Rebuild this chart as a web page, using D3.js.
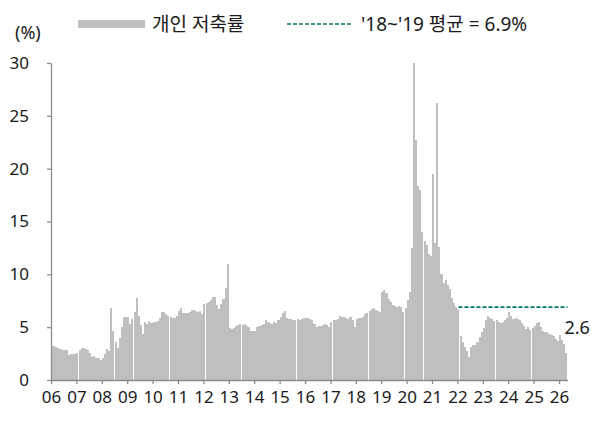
<!DOCTYPE html>
<html>
<head>
<meta charset="utf-8">
<script src="https://cdn.jsdelivr.net/npm/d3@7"></script>
<style>
  body { margin: 0; background: #fff; }
  text { font-family: "Noto Sans", "Noto Sans CJK KR", sans-serif; fill: #1a1a1a; }
</style>
</head>
<body>
<svg id="chart"></svg>
<script>
const width = 595, height = 421

// monthly personal saving rate (%), Jan 2006 ~ Apr 2026
const rate06 = [3.2,3.2,3.1,3.0,2.9,2.8,2.8,2.8,2.4,2.5,2.5,2.5]
const rate07 = [2.6,2.8,3.0,3.0,2.9,2.8,2.6,2.2,2.3,2.1,2.1,1.9]
const rate08 = [2.1,2.5,2.9,2.7,6.8,4.6,3.6,3.0,4.0,5.0,6.0,6.0]
const rate09 = [6.0,5.3,5.8,6.4,7.8,6.1,5.2,4.4,5.5,5.3,5.6,5.4]
const rate10 = [5.5,5.5,5.6,5.9,6.4,6.4,6.2,6.1,6.0,5.9,5.9,6.1]
const rate11 = [6.5,6.8,6.3,6.3,6.3,6.4,6.6,6.6,6.5,6.4,6.5,6.2]
const rate12 = [7.2,7.3,7.4,7.6,7.9,7.9,7.1,6.7,7.2,7.7,8.7,11.0]
const rate13 = [4.9,4.8,4.9,5.1,5.2,5.3,5.2,5.3,5.1,5.0,4.6,4.6]
const rate14 = [4.6,5.0,5.1,5.2,5.3,5.7,5.5,5.4,5.3,5.5,5.4,5.7]
const rate15 = [6.0,6.3,6.5,5.9,5.8,5.8,5.7,5.7,5.8,5.7,5.8,5.9]
const rate16 = [5.9,5.9,5.8,5.7,5.3,5.0,5.1,5.1,5.2,5.3,5.2,5.0]
const rate17 = [5.5,5.7,5.7,5.8,6.1,6.0,6.0,5.9,5.8,6.0,5.7,5.0]
const rate18 = [5.8,5.9,5.9,6.0,6.2,6.3,6.5,6.7,6.8,6.6,6.5,6.4]
const rate19 = [8.3,8.5,8.2,7.7,7.4,7.1,7.0,6.9,7.0,6.9,6.4,6.8]
const rate20 = [7.6,8.3,12.5,30.0,22.7,18.4,18.0,14.0,13.2,12.8,11.9,11.7]
const rate21 = [19.5,13.0,26.2,12.6,10.0,9.2,9.5,9.0,8.6,7.8,7.3,6.9]
const rate22 = [6.7,4.2,3.6,3.1,2.7,2.2,3.1,3.3,3.3,3.6,4.1,4.5]
const rate23 = [4.9,5.7,6.1,5.9,5.8,5.6,5.7,5.5,5.4,5.5,5.7,5.9]
const rate24 = [6.4,6.1,5.8,5.9,5.8,5.7,5.4,5.1,4.8,5.0,4.7,4.9]
const rate25 = [5.1,5.4,5.5,5.0,4.6,4.5,4.5,4.4,4.3,4.2,3.9,3.7]
const rate26 = [4.3,3.8,3.4,2.6]

const savingRate = [].concat(rate06, rate07, rate08, rate09, rate10, rate11, rate12,
    rate13, rate14, rate15, rate16, rate17, rate18, rate19, rate20, rate21, rate22,
    rate23, rate24, rate25, rate26)

const yearLabels = ['06','07','08','09','10','11','12','13','14','15','16','17',
    '18','19','20','21','22','23','24','25','26']
const yTicks = [0, 5, 10, 15, 20, 25, 30]

const avgValue = 6.9
const avgStartMonth = 192   // Jan 2022
const seriesName = '개인 저축률'
const avgName = "'18~'19 평균 = 6.9%"

const BAR_COLOR = '#bfbfbf'
const AVG_COLOR = '#00756a'
const AXIS_COLOR = '#8c8c8c'

const svg = d3.select('#chart').attr('width', width).attr('height', height)

const x = d3.scaleLinear().domain([0, savingRate.length]).range([51, 567.5])
const y = d3.scaleLinear().domain([0, 30]).range([380, 63])
const step = x(1) - x(0)

// bars
svg.append('g')
    .attr('shape-rendering', 'crispEdges')
    .selectAll('rect')
    .data(savingRate)
    .enter()
    .append('rect')
    .attr('x', (d, i) => x(i))
    .attr('width', step * 0.97)
    .attr('y', d => y(d))
    .attr('height', d => y(0) - y(d))
    .attr('fill', BAR_COLOR)

// average line
svg.append('line')
    .attr('x1', x(avgStartMonth) + step / 2)
    .attr('x2', x(savingRate.length))
    .attr('y1', y(avgValue))
    .attr('y2', y(avgValue))
    .attr('stroke', AVG_COLOR)
    .attr('stroke-width', 1.7)
    .attr('stroke-dasharray', '4,2')

// axes
const yAxis = d3.axisLeft(y).tickValues(yTicks).tickSize(4).tickSizeOuter(0).tickPadding(18)
const gy = svg.append('g').attr('transform', `translate(${x(0)},0)`).call(yAxis)

const xAxis = d3.axisBottom(x)
    .tickValues(yearLabels.map((d, i) => i * 12))
    .tickFormat((d, i) => yearLabels[i])
    .tickSize(4).tickSizeOuter(0).tickPadding(7)
const gx = svg.append('g').attr('transform', `translate(0,${y(0)})`).call(xAxis)

for (let g of [gx, gy]) {
    g.select('.domain').attr('stroke', AXIS_COLOR).attr('stroke-width', 1.3)
    g.selectAll('.tick line').attr('stroke', AXIS_COLOR).attr('stroke-width', 1.3)
    g.selectAll('.tick text').style('font-size', '17px').attr('fill', '#1a1a1a')
}

// last value label
const lastIdx = savingRate.length - 1
svg.append('text')
    .attr('x', x(lastIdx) - 1)
    .attr('y', y(savingRate[lastIdx]) - 19)
    .style('font-size', '18px')
    .text(savingRate[lastIdx].toFixed(1))

// unit
svg.append('text').attr('x', 15).attr('y', 39).style('font-size', '18px').text('(%)')

// legend
const legend = svg.append('g')
legend.append('rect').attr('x', 78).attr('y', 20).attr('width', 67).attr('height', 8).attr('fill', BAR_COLOR)
legend.append('text').attr('x', 152).attr('y', 31).style('font-size', '19px').text(seriesName)
legend.append('line')
    .attr('x1', 287).attr('x2', 352).attr('y1', 24).attr('y2', 24)
    .attr('stroke', AVG_COLOR).attr('stroke-width', 1.7).attr('stroke-dasharray', '4,2')
legend.append('text').attr('x', 361).attr('y', 31).style('font-size', '19px').text(avgName)
</script>
</body>
</html>
